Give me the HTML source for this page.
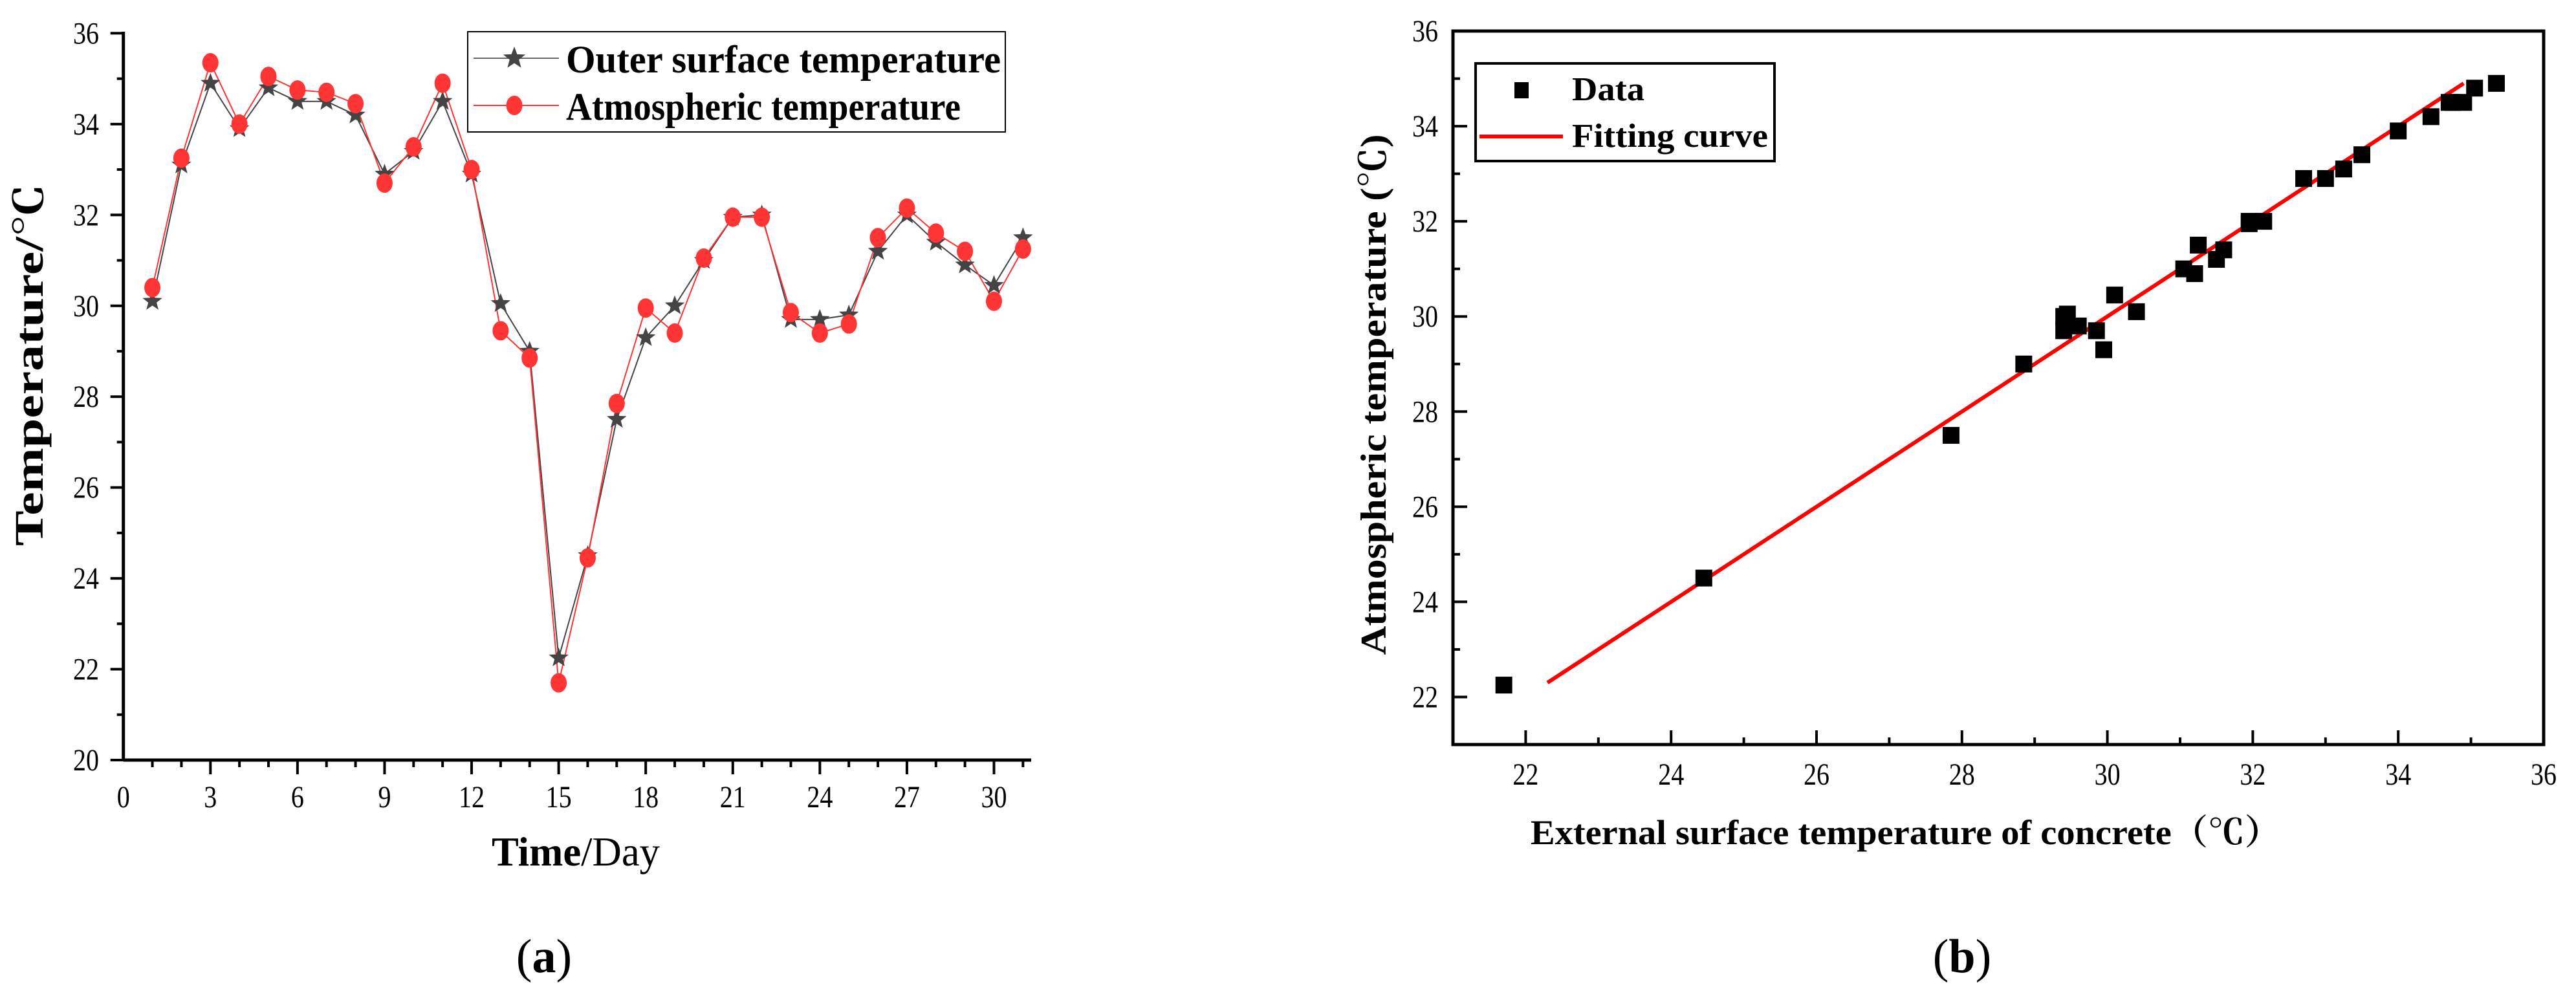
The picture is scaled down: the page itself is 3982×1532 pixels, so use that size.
<!DOCTYPE html>
<html><head><meta charset="utf-8"><style>
html,body{margin:0;padding:0;background:#fff;}
svg{display:block;}
text{font-family:"Liberation Serif","Noto Serif CJK SC",serif;fill:#000;}
</style></head><body>
<svg id="fig" width="3982" height="1532" viewBox="0 0 3982 1532" xmlns="http://www.w3.org/2000/svg">
<g id="chartA"></g>
<g id="chartB"></g>
</svg>
<script>
const days = [1,2,3,4,5,6,7,8,9,10,11,12,13,14,15,16,17,18,19,20,21,22,23,24,25,26,27,28,29,30,31];
const outerTemp = [30.1,33.1,34.9,33.9,34.8,34.5,34.5,34.2,32.9,33.4,34.5,32.9,30.05,29.0,22.25,24.5,27.5,29.3,30.0,31.0,31.95,32.0,29.7,29.7,29.8,31.2,32.0,31.4,30.9,30.45,31.5];
const atmTemp = [30.4,33.25,35.35,34.0,35.05,34.75,34.7,34.45,32.7,33.5,34.9,33.0,29.45,28.85,21.7,24.45,27.85,29.95,29.4,31.05,31.95,31.95,29.85,29.4,29.6,31.5,32.15,31.6,31.2,30.1,31.25];
const xTicksA = [0,3,6,9,12,15,18,21,24,27,30];
const yTicksA = [20,22,24,26,28,30,32,34,36];
const xTicksB = [22,24,26,28,30,32,34,36];
const yTicksB = [22,24,26,28,30,32,34,36];
const fitRange = [22.3,34.9];
const fitCoef = [0.0,1.0];

const NS = "http://www.w3.org/2000/svg";
function mk(parent, tag, attrs, txt){
  const e = document.createElementNS(NS, tag);
  for (const k in attrs) e.setAttribute(k, attrs[k]);
  if (txt !== undefined) e.textContent = txt;
  parent.appendChild(e);
  return e;
}

// ---------- Chart A ----------
const A = document.getElementById('chartA');
const ax = d => 190.7 + d*44.86;
const ay = v => 1175 - (v-20)*(1175-51.4)/16;
let e;
e = mk(A,'line',{x1:190.7,y1:1175,x2:1594,y2:1175,stroke:'#000','stroke-width':5});


e = mk(A,'line',{x1:190.7,y1:1177,x2:190.7,y2:49,stroke:'#000','stroke-width':5});


for (let d=1; d<=31; d++){
  const major = xTicksA.includes(d);
  e = mk(A,'line',{x1:ax(d),y1:1175,x2:ax(d),y2:1175+(major?22:11),stroke:'#000','stroke-width':4});
  
  
}
xTicksA.forEach(t=>{
  e = mk(A,'text',{x:ax(t),y:1248,'font-size':48,'text-anchor':'middle',textLength:t>=10?40:20,lengthAdjust:'spacingAndGlyphs'},String(t));
  
  
});
for (let v=20; v<=36; v++){
  const major = yTicksA.includes(v);
  e = mk(A,'line',{x1:190.7,y1:ay(v),x2:190.7-(major?20:10),y2:ay(v),stroke:'#000','stroke-width':4});
  
  
}
yTicksA.forEach(t=>{
  e = mk(A,'text',{x:153,y:ay(t)+16,'font-size':48,'text-anchor':'end',textLength:40,lengthAdjust:'spacingAndGlyphs'},String(t));
  
  
});
e = mk(A,'text',{x:0,y:0,'font-size':62,'font-weight':'bold','text-anchor':'middle',transform:'translate(66,564) rotate(-90)',textLength:560,lengthAdjust:'spacingAndGlyphs'},'Temperature/\u2103');


e = mk(A,'text',{x:890,y:1338,'font-size':64,'text-anchor':'middle',textLength:260,lengthAdjust:'spacingAndGlyphs'});


mk(e,'tspan',{'font-weight':'bold'},'Time');
mk(e,'tspan',{},'/Day');
function starPath(cx,cy,r){
  let p='';
  for(let i=0;i<10;i++){
    const rr = i%2===0 ? r : r*0.42;
    const a = -Math.PI/2 + i*Math.PI/5;
    p += (i?'L':'M')+(cx+rr*Math.cos(a)).toFixed(1)+','+(cy+rr*Math.sin(a)).toFixed(1);
  }
  return p+'Z';
}
e = mk(A,'polyline',{points:days.map((d,i)=>ax(d)+','+ay(outerTemp[i])).join(' '),fill:'none',stroke:'#444','stroke-width':2});


e = mk(A,'polyline',{points:days.map((d,i)=>ax(d)+','+ay(atmTemp[i])).join(' '),fill:'none',stroke:'#ff3333','stroke-width':2});


days.forEach((d,i)=>{
  e = mk(A,'path',{d:starPath(ax(d),ay(outerTemp[i]),16),fill:'#444'});
  
  
});
days.forEach((d,i)=>{
  e = mk(A,'ellipse',{cx:ax(d),cy:ay(atmTemp[i]),rx:12.5,ry:15,fill:'#ff3535'});
  
  
});
const LA = mk(A,'g',{});


mk(LA,'rect',{x:723,y:49,width:831,height:155,fill:'#fff',stroke:'#000','stroke-width':2});
mk(LA,'line',{x1:732,y1:90,x2:864,y2:90,stroke:'#666','stroke-width':2});
mk(LA,'path',{d:starPath(795,90,18),fill:'#444'});
e = mk(LA,'text',{x:875,y:112,'font-size':60,'font-weight':'bold',textLength:672,lengthAdjust:'spacingAndGlyphs'},'Outer surface temperature');


mk(LA,'line',{x1:732,y1:163,x2:864,y2:163,stroke:'#ff3333','stroke-width':2});
mk(LA,'ellipse',{cx:795,cy:163,rx:12.5,ry:15,fill:'#ff3535'});
e = mk(LA,'text',{x:875,y:185,'font-size':60,'font-weight':'bold',textLength:610,lengthAdjust:'spacingAndGlyphs'},'Atmospheric temperature');


e = mk(A,'text',{x:841,y:1503,'font-size':74,'text-anchor':'middle'});


mk(e,'tspan',{},'(');mk(e,'tspan',{'font-weight':'bold'},'a');mk(e,'tspan',{},')');

// ---------- Chart B ----------
const B = document.getElementById('chartB');
const bx = v => 2246 + (v-21)*(3932-2246)/15;
const by = v => 1151 - (v-21)*(1151-48)/15;
e = mk(B,'rect',{x:2246,y:48,width:3932-2246,height:1151-48,fill:'none',stroke:'#000','stroke-width':5});


for (let v=22; v<=36; v++){
  const major = xTicksB.includes(v);
  e = mk(B,'line',{x1:bx(v),y1:1151,x2:bx(v),y2:1151-(major?22:11),stroke:'#000','stroke-width':4});
  
  
  e = mk(B,'line',{x1:2246,y1:by(v),x2:2246+(major?22:11),y2:by(v),stroke:'#000','stroke-width':4});
  
  
}
xTicksB.forEach(t=>{
  e = mk(B,'text',{x:bx(t),y:1213,'font-size':48,'text-anchor':'middle',textLength:40,lengthAdjust:'spacingAndGlyphs'},String(t));
  
  
});
yTicksB.forEach(t=>{
  e = mk(B,'text',{x:2223,y:by(t)+16,'font-size':48,'text-anchor':'end',textLength:40,lengthAdjust:'spacingAndGlyphs'},String(t));
  
  
});
e = mk(B,'text',{x:0,y:0,'font-size':56,'font-weight':'bold','text-anchor':'middle',transform:'translate(2142,610) rotate(-90)',textLength:805,lengthAdjust:'spacingAndGlyphs'},'Atmospheric temperature  (\u2103)');


e = mk(B,'text',{x:2946,y:1305,'font-size':54,'font-weight':'bold','text-anchor':'middle',textLength:1160,lengthAdjust:'spacingAndGlyphs'},'External surface temperature of concrete\uFF08\u2103\uFF09');


e = mk(B,'line',{x1:bx(fitRange[0]),y1:by(fitCoef[0]+fitCoef[1]*fitRange[0]),x2:bx(fitRange[1]),y2:by(fitCoef[0]+fitCoef[1]*fitRange[1]),stroke:'#ff0000','stroke-width':6});


days.forEach((d,i)=>{
  e = mk(B,'rect',{x:bx(atmTemp[i])-13,y:by(outerTemp[i])-13,width:26,height:26,fill:'#000'});
  
  
});
const LB = mk(B,'g',{});


mk(LB,'rect',{x:2281,y:98,width:462,height:151,fill:'#fff',stroke:'#000','stroke-width':4});
mk(LB,'rect',{x:2341,y:127,width:22,height:25,fill:'#000'});
e = mk(LB,'text',{x:2430,y:155,'font-size':52,'font-weight':'bold',textLength:112,lengthAdjust:'spacingAndGlyphs'},'Data');


mk(LB,'line',{x1:2287,y1:211,x2:2416,y2:211,stroke:'#ff0000','stroke-width':6});
e = mk(LB,'text',{x:2430,y:227,'font-size':52,'font-weight':'bold',textLength:303,lengthAdjust:'spacingAndGlyphs'},'Fitting curve');


e = mk(B,'text',{x:3033,y:1503,'font-size':74,'text-anchor':'middle'});


mk(e,'tspan',{},'(');mk(e,'tspan',{'font-weight':'bold'},'b');mk(e,'tspan',{},')');
</script>
</body></html>
